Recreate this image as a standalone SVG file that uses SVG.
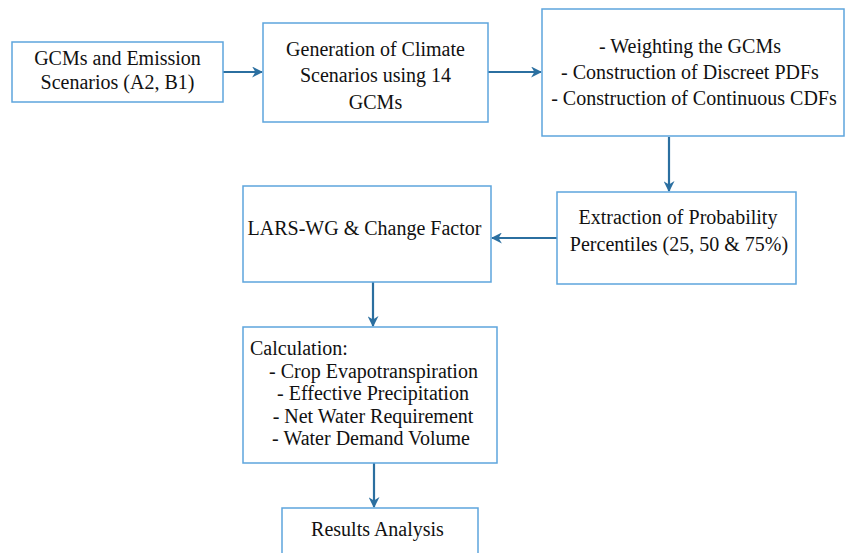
<svg xmlns="http://www.w3.org/2000/svg" width="846" height="553" viewBox="0 0 846 553">
<defs>
<style>
.box{fill:#fff;stroke:#5da5dd;stroke-width:1.5}
.t{font-family:"Liberation Serif","Times New Roman",serif;font-size:20px;fill:#111;text-anchor:middle}
.l{text-anchor:start}
.c{fill:none;stroke:#2b6fa0;stroke-width:2.2}
</style>
<marker id="ah" viewBox="0 0 10 10" refX="9" refY="5" markerWidth="5" markerHeight="5" orient="auto" markerUnits="strokeWidth">
<path d="M0,0 L10,5 L0,10 L3,5 Z" fill="#2b6fa0"/>
</marker>
</defs>
<rect width="846" height="553" fill="#fff"/>
<g id="connectors">
<line class="c" x1="223" y1="72" x2="262" y2="72" marker-end="url(#ah)"/>
<line class="c" x1="488" y1="72" x2="541" y2="72" marker-end="url(#ah)"/>
<line class="c" x1="669" y1="137" x2="669" y2="191" marker-end="url(#ah)"/>
<line class="c" x1="557" y1="238" x2="492" y2="238" marker-end="url(#ah)"/>
<line class="c" x1="373" y1="282" x2="373" y2="326" marker-end="url(#ah)"/>
<line class="c" x1="374" y1="463" x2="374" y2="507" marker-end="url(#ah)"/>
</g>
<g id="n1">
<rect class="box" x="12" y="42" width="211" height="60"/>
<text class="t" x="117.5" y="64.5">GCMs and Emission</text>
<text class="t" x="117.5" y="88.5">Scenarios (A2, B1)</text>
</g>
<g id="n2">
<rect class="box" x="263" y="23" width="225" height="99"/>
<text class="t" x="375.5" y="55.5">Generation of Climate</text>
<text class="t" x="375.5" y="82">Scenarios using 14</text>
<text class="t" x="375.5" y="108.5">GCMs</text>
</g>
<g id="n3">
<rect class="box" x="542" y="9" width="302" height="127"/>
<text class="t" x="690" y="52.5">- Weighting the GCMs</text>
<text class="t" x="690" y="78.5">- Construction of Discreet PDFs</text>
<text class="t" x="694" y="104.5">- Construction of Continuous CDFs</text>
</g>
<g id="n4">
<rect class="box" x="557" y="192" width="239" height="92"/>
<text class="t" x="678" y="223.5">Extraction of Probability</text>
<text class="t" x="679" y="250.5">Percentiles (25, 50 &amp; 75%)</text>
</g>
<g id="n5">
<rect class="box" x="243" y="186" width="248" height="96"/>
<text class="t" x="364.5" y="234.5">LARS-WG &amp; Change Factor</text>
</g>
<g id="n6">
<rect class="box" x="243" y="327" width="254" height="136"/>
<text class="t l" x="250" y="354.5">Calculation:</text>
<text class="t" x="373.5" y="377.5">- Crop Evapotranspiration</text>
<text class="t" x="373" y="399.5">- Effective Precipitation</text>
<text class="t" x="373" y="422.5">- Net Water Requirement</text>
<text class="t" x="371" y="444.5">- Water Demand Volume</text>
</g>
<g id="n7">
<rect class="box" x="282" y="508" width="196" height="50"/>
<text class="t" x="377.5" y="535.5">Results Analysis</text>
</g>
</svg>
